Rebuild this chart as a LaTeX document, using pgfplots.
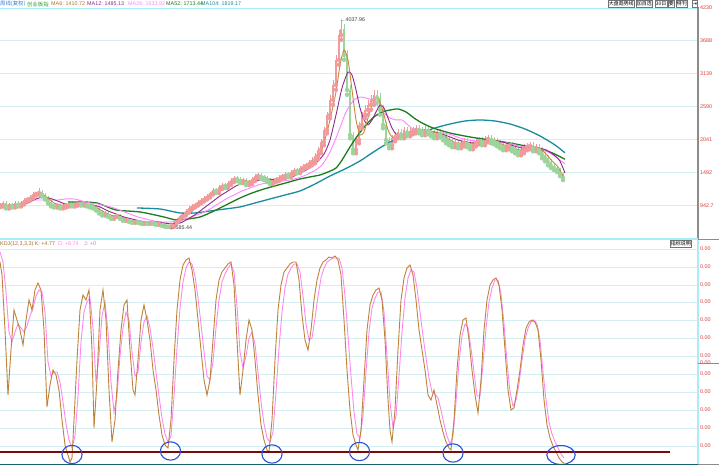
\documentclass[border=0pt]{standalone}
\usepackage{pgfplots}
\pgfplotsset{compat=1.18}
\usepackage{pgfplotstable}
\usepackage{fontspec}
\setmainfont{Liberation Sans}
\newfontfamily\cjk{Noto Sans CJK SC}
\newfontfamily\dejavu{DejaVu Sans}

\definecolor{upc}{HTML}{F09A9A}
\definecolor{dnc}{HTML}{9CD49C}
\definecolor{ma6}{HTML}{C8893A}
\definecolor{ma12}{HTML}{8E2A8E}
\definecolor{ma26}{HTML}{FF85FF}
\definecolor{ma52}{HTML}{1B7D1B}
\definecolor{ma104}{HTML}{1B8C9C}
\definecolor{gridc}{HTML}{D4EEF2}
\definecolor{lblc}{HTML}{E03C3C}
\definecolor{kc}{HTML}{C0823A}
\definecolor{dc}{HTML}{FF88F0}
\definecolor{cyanb}{HTML}{A8EEF6}
\definecolor{maroonl}{HTML}{7A0A0A}
\definecolor{ringc}{HTML}{2E4FD6}
\definecolor{hblue}{HTML}{3A7FD0}
\definecolor{hgreen}{HTML}{3A9A3A}

% weekly candles: x position, open, close, high, low
\pgfplotstableread{
x o c h l
0 940 953 978 915
3 953 986 1011 928
6 986 920 1011 895
9 920 969 994 895
12 969 936 994 911
15 936 986 1011 911
18 986 953 1011 928
21 953 986 1011 928
24 986 1036 1061 961
27 1036 1053 1078 1011
30 1053 1086 1111 1028
33 1086 1136 1161 1061
36 1136 1152 1177 1111
39 1152 1169 1230 1127
42 1169 1119 1194 1094
45 1119 1069 1144 1044
48 1069 1003 1094 978
51 1003 953 1028 928
54 953 936 978 911
57 936 953 978 911
60 953 920 978 895
63 920 936 961 895
66 936 953 978 911
69 953 986 1011 928
72 986 953 1011 928
75 953 969 994 928
78 969 986 1011 944
81 986 969 1011 944
84 969 986 1011 944
87 986 953 1011 928
90 953 936 978 911
93 936 920 961 895
96 920 886 945 861
99 886 837 911 812
102 837 803 862 778
105 803 820 845 778
108 820 770 845 755
111 770 737 785 722
114 737 770 785 722
117 770 787 802 755
120 787 737 802 722
123 737 703 752 688
126 703 720 735 688
129 720 687 735 672
132 687 670 702 655
135 670 687 702 655
138 687 670 702 655
141 670 653 685 638
144 653 670 685 638
147 670 653 685 638
150 653 670 685 638
153 670 653 685 638
156 653 637 668 622
159 637 640 652 622
162 640 620 655 605
165 620 603 635 590
168 603 592 618 585
171 592 603 618 580
174 603 670 685 590
177 670 720 735 655
180 720 770 785 705
183 770 803 828 755
186 803 853 878 778
189 853 903 928 828
192 903 936 961 878
195 936 969 994 911
198 969 1003 1028 944
201 1003 1036 1061 978
204 1036 1069 1094 1011
207 1069 1103 1128 1044
210 1103 1152 1177 1078
213 1152 1202 1237 1127
216 1202 1186 1237 1151
219 1186 1252 1287 1151
222 1252 1285 1320 1217
225 1285 1269 1320 1234
228 1269 1319 1354 1234
231 1319 1369 1404 1284
234 1369 1402 1437 1334
237 1402 1385 1437 1350
240 1385 1352 1420 1317
243 1352 1369 1404 1317
246 1369 1319 1404 1284
249 1319 1335 1370 1284
252 1335 1385 1420 1300
255 1385 1435 1470 1350
258 1435 1452 1487 1400
261 1452 1419 1487 1384
264 1419 1402 1454 1367
267 1402 1369 1437 1334
270 1369 1335 1404 1300
273 1335 1369 1404 1300
276 1369 1385 1420 1334
279 1385 1419 1454 1350
282 1419 1435 1470 1384
285 1435 1468 1503 1400
288 1468 1452 1503 1417
291 1452 1502 1537 1417
294 1502 1535 1570 1467
297 1535 1518 1570 1483
300 1518 1568 1603 1483
303 1568 1602 1637 1533
306 1602 1618 1653 1567
309 1618 1668 1703 1583
312 1668 1701 1756 1613
315 1701 1768 1823 1646
318 1768 1868 1923 1713
321 1868 2001 2056 1813
324 2001 2200 2255 1946
327 2200 2450 2505 2145
330 2450 2699 2779 2395
333 2699 2949 3029 2619
336 2949 3365 3445 2869
339 3365 3781 3861 3285
341 3781 3880 4038 3700
344 3880 3448 3960 3368
347 3448 2866 3528 2786
350 2866 2117 2946 2062
353 2117 1868 2172 1813
356 1868 2034 2089 1813
359 2034 2284 2339 1979
362 2284 2450 2505 2229
365 2450 2533 2613 2395
368 2533 2616 2696 2453
371 2616 2699 2779 2536
374 2699 2783 2863 2619
377 2783 2733 2863 2653
380 2733 2533 2813 2453
383 2533 2284 2613 2229
386 2284 2034 2339 1979
389 2034 1951 2089 1896
392 1951 2067 2122 1896
395 2067 2117 2172 2012
398 2117 2167 2222 2062
401 2167 2117 2222 2062
404 2117 2200 2255 2062
407 2200 2150 2255 2095
410 2150 2184 2239 2095
413 2184 2200 2255 2129
416 2200 2234 2289 2145
419 2234 2200 2289 2145
422 2200 2167 2255 2112
425 2167 2217 2272 2112
428 2217 2184 2272 2129
431 2184 2150 2239 2095
434 2150 2117 2205 2062
437 2117 2167 2222 2062
440 2167 2134 2222 2079
443 2134 2084 2189 2029
446 2084 2034 2139 1979
449 2034 2001 2089 1946
452 2001 1968 2056 1913
455 1968 1984 2039 1913
458 1984 1951 2039 1896
461 1951 1984 2039 1896
464 1984 2017 2072 1929
467 2017 1968 2072 1913
470 1968 1934 2023 1879
473 1934 1984 2039 1879
476 1984 2017 2072 1929
479 2017 2034 2089 1962
482 2034 2001 2089 1946
485 2001 2051 2106 1946
488 2051 2067 2122 1996
491 2067 2034 2122 1979
494 2034 2017 2089 1962
497 2017 1984 2072 1929
500 1984 1951 2039 1896
503 1951 1918 2006 1863
506 1918 1934 1989 1863
509 1934 1951 2006 1879
512 1951 1901 2006 1846
515 1901 1868 1956 1813
518 1868 1834 1923 1779
521 1834 1868 1923 1779
524 1868 1918 1973 1813
527 1918 1934 1989 1863
530 1934 1951 2006 1879
533 1951 1901 2006 1846
536 1901 1918 1973 1846
539 1918 1868 1973 1813
542 1868 1785 1923 1730
545 1785 1735 1840 1680
548 1735 1668 1790 1613
551 1668 1602 1723 1567
554 1602 1568 1637 1533
557 1568 1535 1603 1500
560 1535 1468 1570 1433
563 1468 1402 1503 1367
}\candles

\pgfplotstableread{
x v
6 953
12 953
18 969
24 1003
30 1053
36 1119
42 1136
48 1069
54 986
60 953
66 953
72 969
78 969
84 969
90 953
96 920
102 853
108 803
114 770
120 753
126 720
132 687
138 670
144 670
150 670
156 653
162 637
168 603
174 620
180 687
186 770
192 853
198 936
204 1003
210 1086
216 1152
222 1219
228 1269
234 1335
240 1369
246 1352
252 1352
258 1402
264 1419
270 1369
276 1352
282 1402
288 1435
294 1485
300 1535
306 1585
312 1651
318 1751
324 1984
330 2367
336 2833
340 3282
344 3531
348 3365
352 2866
356 2367
360 2117
364 2167
368 2400
372 2616
376 2733
380 2666
384 2450
388 2200
392 2084
396 2067
402 2117
408 2167
414 2184
420 2200
426 2200
432 2167
438 2150
444 2101
450 2034
456 1984
462 1984
468 1984
474 1984
480 2017
486 2034
492 2051
498 2001
504 1951
510 1934
516 1884
522 1868
528 1918
534 1918
540 1884
546 1801
552 1685
558 1585
564 1411
}\maSix

\pgfplotstableread{
x v
12 953
20 953
28 986
36 1053
44 1086
52 1053
60 1003
68 953
76 953
84 969
92 953
100 920
108 853
116 803
124 753
132 720
140 687
148 670
156 670
164 653
172 637
180 653
188 720
196 803
204 903
212 1003
220 1103
228 1186
236 1269
244 1319
252 1335
260 1369
268 1385
276 1369
284 1385
292 1419
300 1485
308 1552
316 1651
324 1801
330 2034
336 2450
342 2899
348 3165
352 3115
356 2866
360 2566
364 2367
368 2284
372 2367
376 2500
380 2616
384 2566
388 2400
392 2234
396 2134
402 2101
410 2117
418 2150
426 2184
434 2167
442 2134
450 2084
458 2034
466 2001
474 1984
482 2001
490 2017
498 2017
506 1984
514 1934
522 1901
530 1884
538 1901
546 1868
554 1785
560 1680
565 1485
}\maTwelve

\pgfplotstableread{
x v
34 1036
42 1036
50 1036
58 1036
66 1053
74 1053
82 1019
90 986
98 969
106 936
114 903
122 853
130 803
138 753
146 720
154 687
162 670
170 670
178 687
186 720
194 770
202 820
210 886
218 969
226 1053
234 1119
242 1186
250 1235
258 1285
266 1319
274 1335
282 1352
290 1369
298 1402
306 1452
314 1518
322 1618
330 1834
338 2150
346 2500
354 2699
360 2749
366 2733
372 2699
378 2600
384 2483
390 2400
396 2367
402 2367
408 2284
414 2200
420 2184
428 2167
436 2167
444 2150
452 2117
460 2067
468 2034
476 2017
484 2001
492 2017
500 2001
508 1984
516 1951
524 1918
532 1901
540 1884
548 1834
556 1751
565 1634
}\maTwentySix

\pgfplotstableread{
x v
68 1003
80 1003
97 986
116 870
140 837
164 753
176 703
188 720
200 753
212 837
224 936
240 1069
252 1152
264 1219
276 1275
288 1330
300 1385
310 1419
320 1452
328 1502
336 1568
342 1700
350 1918
358 2117
366 2284
374 2417
382 2500
390 2533
398 2550
406 2500
414 2400
422 2317
433 2234
450 2150
470 2084
490 2034
510 1984
530 1918
550 1834
565 1713
}\maFiftyTwo

\pgfplotstableread{
x v
137 903
160 886
180 820
195 820
210 853
225 886
240 920
255 986
270 1053
285 1119
300 1186
315 1302
330 1435
345 1552
360 1685
375 1851
390 2001
405 2084
420 2150
435 2234
450 2300
465 2350
480 2367
495 2350
510 2300
525 2217
540 2101
555 1951
565 1819
}\maHundredFour

\pgfplotstableread{
x k
0 95
2 88.5
5 61
8 28.5
11 51
14 71
17 66
20 61
23 53.5
26 66
29 76
32 71
35 81
38 84.5
41 81
44 61
47 22.5
50 33.5
53 41
56 38.5
59 31
62 16
65 3.5
68 -1.5
70 -5
72 -3
74 16
77 46
80 71
83 78.5
86 76
89 81
92 51
94 12
97 36
100 71
103 81
106 66
109 31
112 5
115 16
118 41
121 61
124 73.5
127 76
130 51
133 31
135 28.5
138 46
141 66
144 73.5
147 66
150 56
153 41
156 31
159 18.5
162 8.5
165 3.5
168 2
171 16
174 46
177 71
180 86
183 93.5
186 96
189 97
192 91
195 81
198 66
201 51
204 36
207 28.5
210 36
213 56
216 76
219 86
222 90
225 92
228 94
231 95
234 83.5
237 56
240 28.5
243 41
246 56
249 66
252 61
255 46
258 28.5
261 13.5
264 6
267 1
269 0
272 16
275 46
278 71
281 83.5
284 90
287 92
290 94
293 95
296 95
299 86
302 68.5
305 56
308 51
311 61
314 76
317 86
320 92
323 95
326 96
329 97.5
332 97
335 98
338 96
341 88.5
344 66
347 41
350 21
353 8.5
356 3.5
358 1
361 11
364 36
367 61
370 73.5
373 78.5
376 81
379 82
382 76
385 56
388 26
390 11
392 5
395 21
398 51
401 76
404 87
407 92
410 93.5
413 88.5
416 76
419 61
422 51
425 41
428 28.5
431 26
434 31
437 23.5
440 16
443 10
446 5
449 2
451 1
454 16
457 41
460 58.5
463 66
466 67
469 56
472 41
475 28.5
478 19.5
481 36
484 61
487 76
490 83.5
493 86
496 87
499 83.5
502 71
505 51
508 31
511 21
514 22
517 31
520 41
523 53.5
526 62
529 65
532 66
535 65
538 61
541 46
544 26
547 13.5
550 7
553 3
556 0
559 -3
562 -5
564 -5.5
}\kline

\pgfplotstableread{
x d
0 100
3 95
6 80
9 60
12 55
15 60
18 64
21 62
24 60
27 63
30 68
33 72
36 78
39 81
42 80
45 70
48 45
51 38
54 40
57 40
60 35
63 25
66 14
69 6
72 2
75 8
78 28
81 55
84 70
87 75
90 77
93 62
96 35
99 48
102 68
105 75
108 60
111 35
114 20
117 28
120 48
123 62
126 70
129 66
132 50
135 38
138 40
141 55
144 65
147 68
150 62
153 52
156 40
159 28
162 17
165 9
168 5
171 8
174 28
177 52
180 72
183 85
186 92
189 95
192 94
195 88
198 77
201 64
204 50
207 38
210 36
213 45
216 62
219 76
222 85
225 89
228 92
231 94
234 90
237 73
240 50
243 42
246 48
249 57
252 60
255 54
258 40
261 25
264 14
267 7
270 5
273 10
276 30
279 52
282 70
285 82
288 89
291 92
294 94
297 94
300 90
303 78
306 64
309 56
312 57
315 67
318 78
321 87
324 92
327 95
330 96
333 97
336 97
339 97
342 92
345 78
348 58
351 38
354 20
357 9
360 7
363 18
366 40
369 60
372 72
375 77
378 80
381 80
384 70
387 48
390 25
393 12
396 18
399 38
402 60
405 77
408 87
411 91
414 90
417 82
420 70
423 58
426 47
429 37
432 30
435 29
438 27
441 21
444 14
447 8
450 4
453 8
456 25
459 45
462 58
465 64
468 62
471 52
474 40
477 28
480 28
483 44
486 62
489 75
492 82
495 86
498 86
501 79
504 64
507 45
510 30
513 23
516 26
519 34
522 46
525 56
528 62
531 65
534 66
537 64
540 56
543 40
546 26
549 15
552 9
555 5
558 2
561 -1
564 -3
}\dline

\newcommand{\tf}{\fontsize{5.4}{6}\selectfont}

\begin{document}
\begin{tikzpicture}[x=1bp,y=1bp]
\useasboundingbox (0,0) rectangle (719,465);
\fill[white] (0,0) rectangle (719,465);

% ---------- price panel ----------
\begin{axis}[
  at={(0bp,226bp)}, anchor=south west, scale only axis,
  width=698bp, height=231bp,
  xmin=0, xmax=698, ymin=387, ymax=4230,
  axis line style={draw=none}, clip=false,
  xtick=\empty,
  ytick={942.7,1492,2041,2590,3139,3688,4230},
  yticklabels={942.7,1492,2041,2590,3139,3688,4230},
  yticklabel pos=right, major tick length=0pt,
  yticklabel style={font=\tf, text=lblc, anchor=west, xshift=-1.5bp},
  ymajorgrids, grid style={gridc, line width=0.9bp},
]
% wicks
\addplot[upc, only marks, mark=none, restrict expr to domain={\thisrow{c}-\thisrow{o}}{0:100000},
  error bars/.cd, y dir=plus, y explicit, error mark=none,
  error bar style={upc, line width=0.6bp}]
  table[x=x, y=l, y error plus expr=\thisrow{h}-\thisrow{l}] {\candles};
\addplot[dnc, only marks, mark=none, restrict expr to domain={\thisrow{c}-\thisrow{o}}{-100000:-0.001},
  error bars/.cd, y dir=plus, y explicit, error mark=none,
  error bar style={dnc, line width=0.6bp}]
  table[x=x, y=l, y error plus expr=\thisrow{h}-\thisrow{l}] {\candles};
% bodies
\addplot[upc, only marks, mark=none, restrict expr to domain={\thisrow{c}-\thisrow{o}}{0:100000},
  error bars/.cd, y dir=plus, y explicit, error mark=none,
  error bar style={upc, line width=1.4bp}]
  table[x=x, y=o, y error plus expr=\thisrow{c}-\thisrow{o}] {\candles};
\addplot[dnc, only marks, mark=none, restrict expr to domain={\thisrow{c}-\thisrow{o}}{-100000:-0.001},
  error bars/.cd, y dir=plus, y explicit, error mark=none,
  error bar style={dnc, line width=1.4bp}]
  table[x=x, y=c, y error plus expr=\thisrow{o}-\thisrow{c}] {\candles};
% moving averages
\addplot[ma104, line width=1.3bp, smooth, tension=0.4] table[x=x,y=v] {\maHundredFour};
\addplot[ma52, line width=1.3bp, smooth, tension=0.4] table[x=x,y=v] {\maFiftyTwo};
\addplot[ma26, line width=0.9bp, smooth, tension=0.4] table[x=x,y=v] {\maTwentySix};
\addplot[ma12, line width=0.9bp, smooth, tension=0.4] table[x=x,y=v] {\maTwelve};
\addplot[ma6, line width=0.9bp, smooth, tension=0.4] table[x=x,y=v] {\maSix};
\end{axis}

% ---------- KDJ panel ----------
\begin{axis}[
  at={(0bp,1bp)}, anchor=south west, scale only axis,
  width=698bp, height=215bp,
  xmin=0, xmax=698, ymin=-6, ymax=101.5,
  axis line style={draw=none}, clip=false,
  xtick=\empty,
  ytick={3,12,21,30,39,48,57,66,75,83.5,92.5,101.5},
  yticklabel={0.00},
  extra y ticks={44.5}, extra y tick labels={0.00},
  extra y tick style={ymajorgrids=false},
  yticklabel pos=right, major tick length=0pt,
  yticklabel style={font=\tf, text=lblc, anchor=west, xshift=-1.5bp},
  ymajorgrids, grid style={gridc, line width=0.9bp},
]
\addplot[dc, line width=0.9bp] table[x=x,y=d] {\dline};
\addplot[kc, line width=0.9bp] table[x=x,y=k] {\kline};
\addplot[maroonl, line width=2bp] coordinates {(0,0) (670,0)};
\addplot[only marks, mark=o, mark size=9.2, mark options={ringc, line width=1.1bp, xscale=1.1}]
  coordinates {(72,-1.25) (170.5,0.5) (272,-1) (359.5,0.25) (453,-0.5)};
\addplot[only marks, mark=o, mark size=9.5, mark options={ringc, line width=1.1bp, xscale=1.5}]
  coordinates {(561,-1.5)};
\end{axis}

% ---------- extreme value labels ----------
\node[anchor=west, font=\tf, inner sep=0pt, text=black!75] at (340,445) {←4037.96};
\node[anchor=west, font=\tf, inner sep=0pt, text=black!75] at (170,237) {←585.44};

% ---------- frame lines ----------
\draw[cyanb, line width=0.8bp] (0,457) -- (698,457);
\draw[black!45, line width=1.2bp] (698,226) -- (698,457.5);
\draw[cyanb, line width=2bp] (0,225.5) -- (698,225.5);
\draw[black!45, line width=0.8bp] (698,225.5) -- (719,225.5);
\draw[cyanb, line width=1.8bp] (698,1) -- (698,224.5);
\draw[black!45, line width=0.8bp] (698,102) -- (719,102);
\draw[ma104!70!black, line width=1bp] (0,0.8) -- (698,0.8);
\draw[black!45, line width=0.8bp] (698,0.8) -- (719,0.8);

% ---------- header texts ----------
\node[anchor=west, inner sep=0pt, font=\tf, text=hblue] at (0,461) {\cjk 周线(复权)};
\node[anchor=west, inner sep=0pt, font=\tf, text=hgreen] at (27,461) {\cjk 创业板指};
\node[anchor=west, inner sep=0pt, font=\tf, text=ma6!85!black] at (51,461) {MA6: 1410.72};
\node[anchor=west, inner sep=0pt, font=\tf, text=ma12] at (87,461) {MA12: 1485.13};
\node[anchor=west, inner sep=0pt, font=\tf, text=ma26] at (128,461) {MA26: 1633.92};
\node[anchor=west, inner sep=0pt, font=\tf, text=ma52] at (166,461) {MA52: 1713.44};
\node[anchor=west, inner sep=0pt, font=\tf, text=ma104] at (201,461) {MA104: 1819.17};

\node[anchor=west, inner sep=0pt, font=\tf, text=kc!85!black] at (0,221) {KDJ(12,3,3,3) K: +4.77};
\node[anchor=west, inner sep=0pt, font=\tf, text=dc] at (58,221) {D: +8.74};
\node[anchor=west, inner sep=0pt, font=\tf, text=dc!80!blue] at (84,221) {J: +0};

% buttons
\begin{scope}[every node/.style={draw=black!55, fill=white, inner sep=0.6bp, font=\fontsize{5}{5.5}\selectfont\cjk, anchor=north west, minimum height=7.5bp}]
\node at (608,465) {大盘趋势线};
\node at (636,465) {加自选};
\node at (655,465) {30日};
\node at (668,465) {要};
\node at (676,465) {特刊};
\node[font=\fontsize{5}{5.5}\selectfont\dejavu] at (692,465) {⇥};
\node at (670,225) {指标说明};
\end{scope}
\end{tikzpicture}
\end{document}
